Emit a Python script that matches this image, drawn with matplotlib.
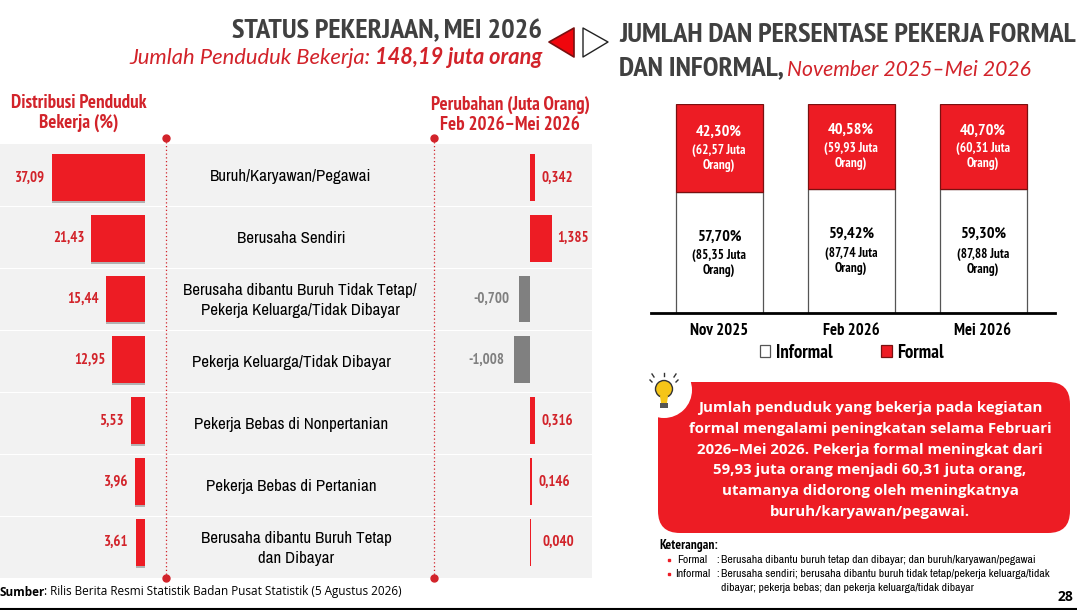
import matplotlib
matplotlib.use('Agg')
from matplotlib import pyplot as plt
from matplotlib.patches import Rectangle, FancyBboxPatch, Circle, Polygon
from matplotlib import patheffects as pe

status_labels = ['Buruh/Karyawan/Pegawai', 'Berusaha Sendiri',
                 'Berusaha dibantu Buruh Tidak Tetap/\nPekerja Keluarga/Tidak Dibayar',
                 'Pekerja Keluarga/Tidak Dibayar', 'Pekerja Bebas di Nonpertanian',
                 'Pekerja Bebas di Pertanian', 'Berusaha dibantu Buruh Tetap\ndan Dibayar']
distribusi = [37.09, 21.43, 15.44, 12.95, 5.53, 3.96, 3.61]
distribusi_text = ['37,09', '21,43', '15,44', '12,95', '5,53', '3,96', '3,61']
perubahan = [0.342, 1.385, -0.700, -1.008, 0.316, 0.146, 0.040]
perubahan_text = ['0,342', '1,385', '-0,700', '-1,008', '0,316', '0,146', '0,040']

periode = ['Nov 2025', 'Feb 2026', 'Mei 2026']
informal_pct = [57.70, 59.42, 59.30]
formal_pct = [42.30, 40.58, 40.70]
informal_text = ['57,70%', '59,42%', '59,30%']
formal_text = ['42,30%', '40,58%', '40,70%']
informal_juta = ['85,35', '87,74', '87,88']
formal_juta = ['62,57', '59,93', '60,31']

RED = '#ED1C24'
TITLE_RED = '#D2232A'
GREY = '#808080'
NARROW = ['Archivo Narrow', 'Liberation Sans']
BOLD = ['PT Sans Narrow', 'Archivo Narrow', 'Liberation Sans']
W, H = 1077, 610

plt.rcParams['font.family'] = NARROW
fig = plt.figure(figsize=(W / 100, H / 100), dpi=100, facecolor='white')


def px_axes(x0, y0, x1, y1, z=2):
    # axes placed from picture pixels, y counted from the top
    ax = fig.add_axes([x0 / W, 1 - y1 / H, (x1 - x0) / W, (y1 - y0) / H], zorder=z)
    ax.patch.set_alpha(0)
    return ax


# background layer in pixel coordinates
bg = px_axes(0, 0, W, H, z=1)
bg.set_xlim(0, W)
bg.set_ylim(H, 0)
bg.axis('off')

row_h = 62
for i in range(7):
    bg.add_patch(Rectangle((0, 144 + i * row_h + (1 if i else 0)), 592, row_h - (1 if i else 0),
                           fc='#F2F2F2', ec='none'))
for x in [166, 434]:
    bg.plot([x, x], [138, 578], color=TITLE_RED, lw=0.9, ls=(0, (1, 2)))
    bg.plot([x, x], [138, 578], ls='none', marker='o', ms=5, color=TITLE_RED)

# arrows between the panels
bg.add_patch(Polygon([[574, 28], [574, 57], [549, 42]], closed=True, fc='#F0060D', ec='#7a1010',
                     lw=1.2, joinstyle='round'))
bg.add_patch(Polygon([[583, 28], [583, 57], [608, 42]], closed=True, fc='white', ec='#222222',
                     lw=1.0, joinstyle='round'))

# titles
bg.text(542, 31, 'STATUS PEKERJAAN, MEI 2026', ha='right', va='center', fontsize=20.4,
        fontweight='bold', family=BOLD, color='#404040')
bg.text(371, 58, 'Jumlah Penduduk Bekerja:', ha='right', va='center', fontsize=15.8,
        style='italic', family='Lato', color=TITLE_RED)
bg.text(542, 58, '148,19 juta orang', ha='right', va='center', fontsize=15.7, style='italic',
        fontweight='bold', family='Lato', color=TITLE_RED)
bg.text(619, 35, 'JUMLAH DAN PERSENTASE PEKERJA FORMAL', ha='left', va='center', fontsize=20.4,
        fontweight='bold', family=BOLD, color='#404040')
bg.text(619, 68, 'DAN INFORMAL,', ha='left', va='center', fontsize=20.4, fontweight='bold',
        family=BOLD, color='#404040')
bg.text(787, 70, 'November 2025\u2013Mei 2026', ha='left', va='center', fontsize=15.2,
        style='italic', family='Lato', color=TITLE_RED)

bg.text(79, 113, 'Distribusi Penduduk\nBekerja (%)', ha='center', va='center', fontsize=13.7,
        fontweight='bold', family=BOLD, color=TITLE_RED, linespacing=1.15)
bg.text(510, 115, 'Perubahan (Juta Orang)\nFeb 2026\u2013Mei 2026', ha='center', va='center',
        fontsize=13.7, fontweight='bold', family=BOLD, color=TITLE_RED, linespacing=1.15)

# middle labels
label_x = [291, 291, 300, 291, 291, 291, 296]
for i, lab in enumerate(status_labels):
    bg.text(label_x[i], 176.5 + i * row_h, lab, ha='center', va='center', fontsize=12.2,
            color='black', linespacing=1.5)

# left bars
shadow = [pe.withSimplePatchShadow(offset=(0, -1.5), shadow_rgbFace='#888888', alpha=0.6), pe.Normal()]
ax1 = px_axes(0, 144, 145, 578)
ax1.set_xlim(145 / 2.51, 0)
ax1.set_ylim(6.5 + 0.09, -0.55)
ax1.axis('off')
bars = ax1.barh(range(7), distribusi, height=0.77, color=RED)
for b in bars:
    b.set_path_effects(shadow)
for i, v in enumerate(distribusi):
    ax1.annotate(distribusi_text[i], (v, i), xytext=(-7, 0), textcoords='offset pixels', ha='right',
                 va='center', fontsize=10.6, fontweight='bold', family=BOLD, color=TITLE_RED)

# right bars
ax2 = px_axes(434, 144, 592, 578)
ax2.set_xlim(-96 / 15.9, 62 / 15.9)
ax2.set_ylim(6.5 + 0.09, -0.55)
ax2.axis('off')
colors = [RED if v > 0 else GREY for v in perubahan]
ax2.barh(range(7), perubahan, height=0.77, color=colors)
gaps = [6, 5, -9, -10, 6, 6, 12]
for i, v in enumerate(perubahan):
    ax2.annotate(perubahan_text[i], (v, i), xytext=(gaps[i], 0), textcoords='offset pixels',
                 ha='left' if v > 0 else 'right', va='center', fontsize=10.6, fontweight='bold',
                 family=BOLD, color=TITLE_RED if v > 0 else GREY)

# stacked bars
ax3 = px_axes(651, 104, 1055, 313)
ax3.set_ylim(0, 100)
ax3.set_xlim(-68 / 132, 336 / 132)
xs = range(3)
b_inf = ax3.bar(xs, informal_pct, width=87 / 132, color='white', edgecolor='#555555', lw=0.9,
                label='Informal')
b_for = ax3.bar(xs, formal_pct, bottom=informal_pct, width=87 / 132, color=RED, edgecolor='#7a1010',
                lw=0.9, label='Formal')
for i in xs:
    ax3.annotate(formal_text[i], (i, informal_pct[i] + formal_pct[i] * 0.69), ha='center', va='center',
                 fontsize=11.7, fontweight='bold', family=BOLD, color='white')
    ax3.annotate('(%s Juta\nOrang)' % formal_juta[i], (i, informal_pct[i] + formal_pct[i] * 0.385),
                 ha='center', va='center', fontsize=9.5, fontweight='bold', family=BOLD, color='white',
                 linespacing=1.2)
    ax3.annotate(informal_text[i], (i, informal_pct[i] * 0.635), ha='center', va='center', fontsize=11.7,
                 fontweight='bold', family=BOLD, color='black')
    ax3.annotate('(%s Juta\nOrang)' % informal_juta[i], (i, informal_pct[i] * 0.415), ha='center',
                 va='center', fontsize=9.5, fontweight='bold', family=BOLD, color='black', linespacing=1.2)
for s in ['top', 'left', 'right']:
    ax3.spines[s].set_visible(False)
ax3.spines['bottom'].set_linewidth(2)
ax3.set_yticks([])
ax3.set_xticks(list(xs))
ax3.set_xticklabels(periode, fontsize=12, fontweight='bold', family=BOLD)
ax3.tick_params(axis='x', length=0, pad=7)
ax3.legend(handles=[b_inf, b_for], loc='center', bbox_to_anchor=(0.4975, -0.19),
           ncol=2, frameon=False, handlelength=0.55, handleheight=0.55,
           columnspacing=2.6, handletextpad=0.3, prop={'weight': 'bold', 'size': 13.5, 'family': BOLD})

# callout
bg.add_patch(FancyBboxPatch((658, 382), 412, 151, boxstyle='round,pad=0,rounding_size=22', fc=RED,
                            ec='none'))
bg.add_patch(Circle((664, 390), 28, fc='white', ec='none', zorder=3))
bg.add_patch(Circle((664, 389), 8.5, fc='#F5C518', ec='#333333', lw=1.0, zorder=4))
bg.add_patch(Polygon([[660, 396], [668, 396], [667, 403], [661, 403]], closed=True, fc='#F5C518',
                     ec='none', zorder=4))
bg.add_patch(Rectangle((660, 403), 8, 5, fc='#555555', ec='none', zorder=4))
for a, c, d, e in [(664, 373, 664, 376), (650, 380, 652, 382), (678, 380, 676, 382), (652, 374, 654, 377),
                   (676, 374, 674, 377)]:
    bg.plot([a, d], [c, e], color='#333333', lw=1, zorder=4)
callout = ('Jumlah penduduk yang bekerja pada kegiatan\nformal mengalami peningkatan selama Februari\n'
           '2026\u2013Mei 2026. Pekerja formal meningkat dari\n59,93 juta orang menjadi 60,31 juta orang,\n'
           'utamanya didorong oleh meningkatnya\nburuh/karyawan/pegawai.')
bg.text(870, 460, callout, ha='center', va='center', family='Open Sans', fontweight='bold', fontsize=10.8,
        color='white', linespacing=1.63, zorder=4)

# notes
bg.text(659, 545, 'Keterangan:', ha='left', va='center', fontsize=9.6, fontweight='bold', family=BOLD)
bg.plot([669, 669], [560, 574], ls='none', marker='s', ms=2, color=RED)
bg.text(677, 560, 'Formal', ha='left', va='center', fontsize=8.4)
bg.text(675, 574, 'Informal', ha='left', va='center', fontsize=8.4)
bg.text(716, 560, ':', ha='left', va='center', fontsize=8.4)
bg.text(716, 574, ':', ha='left', va='center', fontsize=8.4)
bg.text(721, 560, 'Berusaha dibantu buruh tetap dan dibayar; dan buruh/karyawan/pegawai', ha='left',
        va='center', fontsize=8.4)
bg.text(721, 574, 'Berusaha sendiri; berusaha dibantu buruh tidak tetap/pekerja keluarga/tidak', ha='left',
        va='center', fontsize=8.4)
bg.text(721, 588, 'dibayar; pekerja bebas; dan pekerja keluarga/tidak dibayar', ha='left', va='center',
        fontsize=8.4)

# footer
bg.text(0, 592, 'Sumber', ha='left', va='center', family='Open Sans', fontweight='bold', fontsize=8.5)
bg.text(44, 592, ': Rilis Berita Resmi Statistik Badan Pusat Statistik (5 Agustus 2026)', ha='left', va='center',
        family='Open Sans', fontsize=8.5)
bg.text(1073, 597, '28', ha='right', va='center', family='Open Sans', fontweight='bold', fontsize=10)
bg.plot([0, W], [609, 609], color='black', lw=1.5)

fig.savefig('out.png', dpi=100)
